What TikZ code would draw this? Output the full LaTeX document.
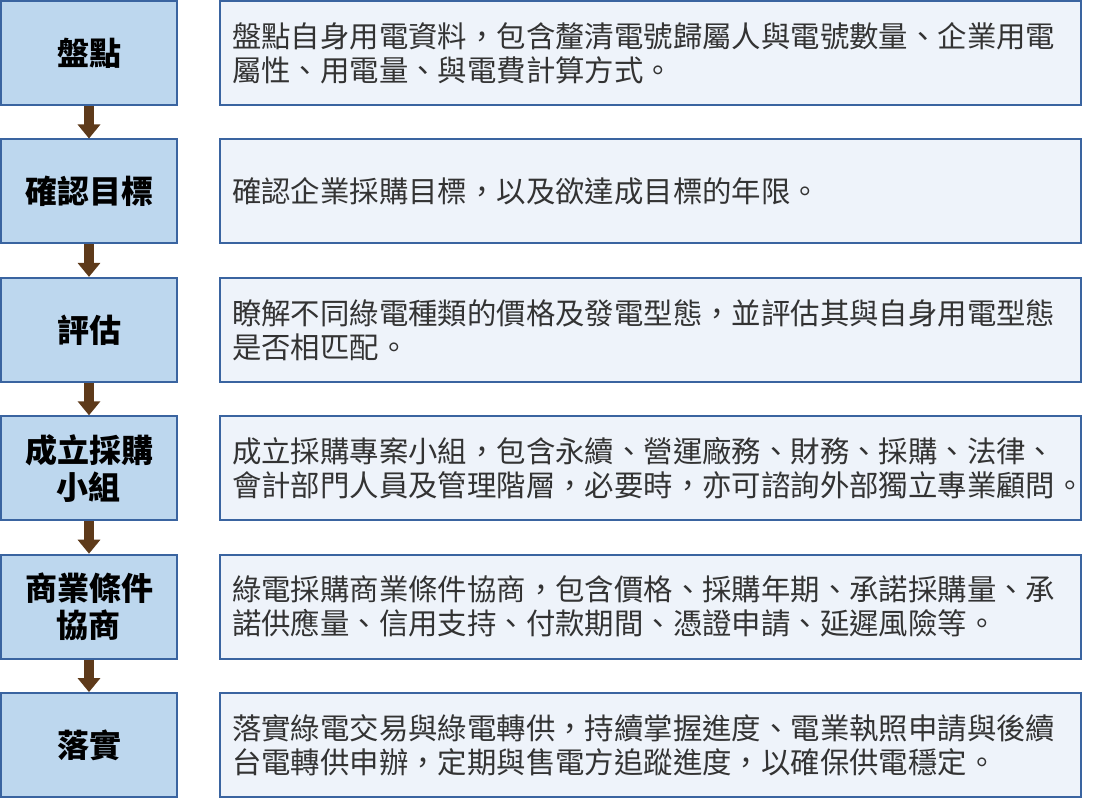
\documentclass[tikz,border=0pt]{standalone}
\usepackage{fontspec}
\setmainfont{Noto Sans CJK TC}
\usetikzlibrary{arrows.meta}
\definecolor{lfill}{HTML}{BDD7EE}
\definecolor{rfill}{HTML}{EEF3FA}
\definecolor{bord}{HTML}{3A64A0}
\definecolor{arr}{HTML}{5E3A1A}
\definecolor{rtext}{HTML}{333333}
\tikzset{
  stagebox/.style={draw=bord, line width=1.8pt, fill=lfill, minimum width=176pt, minimum height=104pt,
    inner sep=0pt, align=center, font=\fontsize{32}{37}\selectfont\bfseries, text=black},
  descbox/.style={draw=bord, line width=1.8pt, fill=rfill, minimum width=861pt, minimum height=104pt,
    inner xsep=12pt, inner ysep=0pt, text width=837pt, align=left,
    font=\fontsize{29.4}{34}\selectfont, text=rtext},
  flowarrow/.style={draw=arr, line width=10pt, -{Triangle[width=22pt,length=14pt]}}
}
\begin{document}
\begin{tikzpicture}[x=1pt,y=-1pt]
\useasboundingbox (0,0) rectangle (1100,799);
\node[stagebox] (L1) at (89,53) {盤點};
\node[stagebox] (L2) at (89,191.4) {確認目標};
\node[stagebox] (L3) at (89,329.8) {評估};
\node[stagebox] (L4) at (89,468.2) {成立採購\\小組};
\node[stagebox] (L5) at (89,606.6) {商業條件\\協商};
\node[stagebox] (L6) at (89,745) {落實};
\node[descbox] (R1) at (650.5,53) {盤點自身用電資料，包含釐清電號歸屬人與電號數量、企業用電\\屬性、用電量、與電費計算方式。};
\node[descbox] (R2) at (650.5,191.4) {確認企業採購目標，以及欲達成目標的年限。};
\node[descbox] (R3) at (650.5,329.8) {瞭解不同綠電種類的價格及發電型態，並評估其與自身用電型態\\是否相匹配。};
\node[descbox] (R4) at (650.5,468.2) {成立採購專案小組，包含永續、營運廠務、財務、採購、法律、\\會計部門人員及管理階層，必要時，亦可諮詢外部獨立專業顧問。};
\node[descbox] (R5) at (650.5,606.6) {綠電採購商業條件協商，包含價格、採購年期、承諾採購量、承\\諾供應量、信用支持、付款期間、憑證申請、延遲風險等。};
\node[descbox] (R6) at (650.5,745) {落實綠電交易與綠電轉供，持續掌握進度、電業執照申請與後續\\台電轉供申辦，定期與售電方追蹤進度，以確保供電穩定。};
\draw[flowarrow] (L1.south) -- (L2.north);
\draw[flowarrow] (L2.south) -- (L3.north);
\draw[flowarrow] (L3.south) -- (L4.north);
\draw[flowarrow] (L4.south) -- (L5.north);
\draw[flowarrow] (L5.south) -- (L6.north);
\end{tikzpicture}
\end{document}
